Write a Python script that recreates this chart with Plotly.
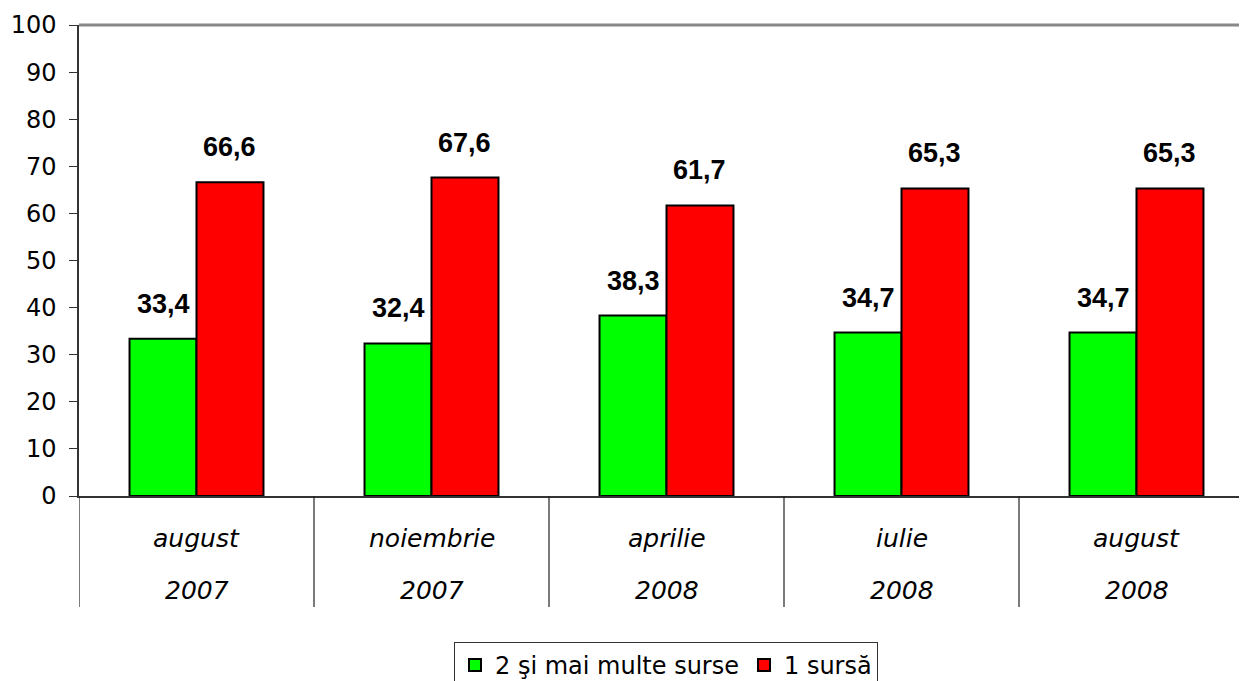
import plotly.graph_objects as go

months = ["august", "noiembrie", "aprilie", "iulie", "august"]
years = ["2007", "2007", "2008", "2008", "2008"]
multi_sources = [33.4, 32.4, 38.3, 34.7, 34.7]
one_source = [66.6, 67.6, 61.7, 65.3, 65.3]
series_names = ["2 şi mai multe surse", "1 sursă"]
y_ticks = list(range(0, 101, 10))

PAGE_OFF = 8  # default body margin of the html page
W, H = 1247 - PAGE_OFF, 681 - PAGE_OFF
L, R, T, B = 79 - PAGE_OFF, 0, 25 - PAGE_OFF, 185
plot_w = W - L - R
plot_h = H - T - B
cat_px = 235.0
bar_frac = 0.285  # width of one bar in category units

xpos = list(range(len(months)))

fig = go.Figure()
fig.add_trace(go.Bar(x=xpos, y=multi_sources, name=series_names[0],
                     marker=dict(color="#00FF00", line=dict(color="black", width=2))))
fig.add_trace(go.Bar(x=xpos, y=one_source, name=series_names[1],
                     marker=dict(color="#FF0000", line=dict(color="black", width=2))))

label_font = dict(family="Liberation Sans, Arial", size=27, color="black")
for i in xpos:
    for vals, off in ((multi_sources, -bar_frac / 2), (one_source, bar_frac / 2)):
        fig.add_annotation(x=i + off, y=vals[i], xref="x", yref="y",
                           text="<b>" + f"{vals[i]:.1f}".replace(".", ",") + "</b>",
                           showarrow=False, yanchor="bottom", yshift=18, font=label_font)

cat_font = dict(family="DejaVu Sans", size=25, color="black")
for i in xpos:
    fig.add_annotation(x=i, y=(496 - 538) / plot_h, xref="x", yref="paper",
                       text="<i>" + months[i] + "</i>", showarrow=False,
                       yanchor="middle", font=cat_font)
    fig.add_annotation(x=i, y=(496 - 590) / plot_h, xref="x", yref="paper",
                       text="<i>" + years[i] + "</i>", showarrow=False,
                       yanchor="middle", font=cat_font)

# category separators below axis
for k in range(len(months) + 1):
    fig.add_shape(type="line", xref="x", yref="paper", x0=k - 0.5, x1=k - 0.5,
                  y0=0, y1=(496 - 607) / plot_h, line=dict(color="#222222", width=1.2))
# top border
fig.add_shape(type="line", xref="paper", yref="paper", x0=0, x1=1, y0=1, y1=1,
              line=dict(color="#888888", width=3))

fig.update_layout(
    width=W, height=H,
    margin=dict(l=L, r=R, t=T, b=B, pad=0, autoexpand=False),
    paper_bgcolor="white", plot_bgcolor="white",
    barmode="group", bargap=1 - 2 * bar_frac, bargroupgap=0,
    showlegend=True,
    legend=dict(orientation="h", x=(666 - 79) / plot_w, xanchor="center",
                y=(496 - 642) / plot_h, yanchor="top",
                bordercolor="#333333", borderwidth=1,
                font=dict(family="DejaVu Sans", size=24, color="black"),
                itemwidth=30, traceorder="normal"),
    xaxis=dict(range=[-0.5, -0.5 + plot_w / cat_px], showticklabels=False,
               showgrid=False, zeroline=False, showline=True, linecolor="#333333",
               linewidth=1.5, ticks="", automargin=False),
    yaxis=dict(range=[0, 100], tickvals=y_ticks, showgrid=False, zeroline=False,
               showline=True, linecolor="#333333", linewidth=1.5,
               ticks="outside", ticklen=8, tickcolor="#333333", tickwidth=1.2,
               ticklabelstandoff=8, automargin=False,
               tickfont=dict(family="DejaVu Sans", size=24, color="black")),
)

fig.write_html("out.html")
